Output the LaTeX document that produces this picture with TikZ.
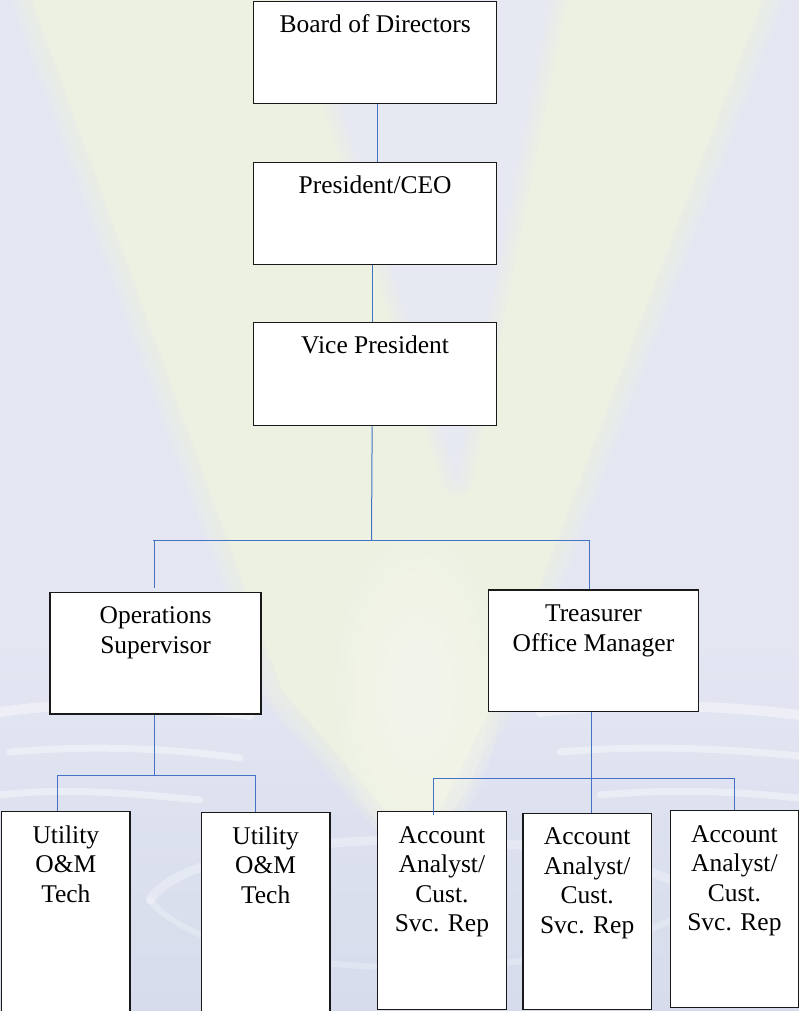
\documentclass[tikz,border=0pt]{standalone}
\usepackage{fontspec}
\setmainfont{Liberation Serif}
\definecolor{bgl}{RGB}{228,230,242}
\definecolor{bgb}{RGB}{214,220,236}
\definecolor{vgr}{RGB}{237,241,226}
\definecolor{vin}{RGB}{230,232,242}
\definecolor{vglow}{RGB}{248,249,240}
\definecolor{lineblue}{RGB}{68,114,196}
\newcommand\myfirstline{\rule{0pt}{20pt}}
\tikzset{
  box/.style={draw=black!90, line width=1.3pt, fill=white, inner sep=0pt, anchor=north west},
  lbl/.style={font=\fontsize{25.5}{29.5}\selectfont, align=center, anchor=north, inner sep=0pt},
  conn/.style={draw=lineblue, line width=1pt},
  streak/.style={draw=white, opacity=0.4, line cap=round},
  soft/.style={opacity=0.28, line join=round, line cap=round}
}
\begin{document}
\begin{tikzpicture}[x=1pt,y=-1pt]
\useasboundingbox (0,0) rectangle (799,1011);
% ---------- background ----------
\begin{scope}
\clip (0,0) rectangle (799,1011);
\fill[bgl] (0,0) rectangle (799,1011);
\shade[top color=bgl, bottom color=bgb] (0,640) rectangle (799,1011);
% V shape with soft edges
\foreach \w in {40,28,16,6}
  \draw[vgr, soft, line width=\w pt] (25,-20) -- (770,-20) -- (500,690) -- (420,850) -- (282,690) -- cycle;
\fill[vgr] (25,-20) -- (770,-20) -- (500,690) -- (420,850) -- (282,690) -- cycle;
% inner notch of the V
\foreach \w in {30,20,10}
  \draw[vin, soft, line width=\w pt] (300,-20) -- (555,-20) -- (457,480) -- cycle;
\fill[vin] (300,-20) -- (555,-20) -- (457,480) -- cycle;
% pale glow towards the tip
\foreach \r in {1,...,9}
  \fill[vglow, opacity=0.16] (418,690) ellipse ({9*\r} and {17*\r});
% swirls
\draw[streak, line width=10pt] (0,712) .. controls (80,700) and (180,705) .. (250,715);
\draw[streak, line width=7pt] (10,752) .. controls (90,745) and (170,748) .. (240,758);
\draw[streak, line width=7pt] (0,795) .. controls (60,788) and (120,792) .. (200,800);
\draw[streak, line width=10pt] (540,712) .. controls (620,702) and (720,705) .. (799,715);
\draw[streak, line width=7pt] (560,752) .. controls (640,745) and (720,748) .. (799,756);
\draw[streak, line width=7pt] (600,795) .. controls (680,788) and (740,792) .. (799,798);
\draw[streak, line width=9pt, opacity=0.3] (150,900) .. controls (200,820) and (620,820) .. (700,900);
\draw[streak, line width=6pt, opacity=0.25] (150,900) .. controls (220,990) and (600,990) .. (700,900);
\end{scope}
% ---------- boxes ----------
\node[box, minimum width=243pt, minimum height=102pt] (b1) at (253,1) {};
\node[box, minimum width=243pt, minimum height=102pt] (b2) at (253,162) {};
\node[box, minimum width=243pt, minimum height=103pt] (b3) at (253,322) {};
\node[box, minimum width=211pt, minimum height=121.6pt] (b4) at (49.4,591.7) {};
\node[box, minimum width=210.4pt, minimum height=121.7pt] (b5) at (487.6,589.3) {};
\node[box, minimum width=128.4pt, minimum height=215pt] (b6) at (1,811) {};
\node[box, minimum width=128.4pt, minimum height=215pt] (b7) at (200.8,812) {};
\node[box, minimum width=128.5pt, minimum height=197.7pt] (b8) at (377,811) {};
\node[box, minimum width=128.4pt, minimum height=196.3pt] (b9) at (522.3,812.7) {};
\node[box, minimum width=128.5pt, minimum height=196.7pt] (b10) at (669.5,810) {};
% ---------- labels ----------
\node[lbl] (t1) at ([yshift=-11pt]b1.north) {\myfirstline Board of Directors};
\node[lbl] (t2) at ([yshift=-11pt]b2.north) {\myfirstline President/CEO};
\node[lbl] (t3) at ([yshift=-11pt]b3.north) {\myfirstline Vice President};
\node[lbl] (t4) at ([yshift=-12pt]b4.north) {\myfirstline Operations\\Supervisor};
\node[lbl] (t5) at ([yshift=-12pt]b5.north) {\myfirstline Treasurer\\Office Manager};
\node[lbl] (t6) at ([yshift=-12pt]b6.north) {\myfirstline Utility\\O\&M\\Tech};
\node[lbl] (t7) at ([yshift=-12pt]b7.north) {\myfirstline Utility\\O\&M\\Tech};
\node[lbl] (t8) at ([yshift=-12pt]b8.north) {\myfirstline Account\\Analyst/\\Cust.\\Svc. Rep};
\node[lbl] (t9) at ([yshift=-12pt]b9.north) {\myfirstline Account\\Analyst/\\Cust.\\Svc. Rep};
\node[lbl] (t10) at ([yshift=-12pt]b10.north) {\myfirstline Account\\Analyst/\\Cust.\\Svc. Rep};
% ---------- connectors ----------
\coordinate (hub) at (371.5,540);
\coordinate (L1) at (154,540);
\coordinate (R1) at (589,540);
\draw[conn] ([xshift=2.5pt]b1.south) -- ([xshift=2.5pt]b2.north);
\draw[conn] ([xshift=-3pt]b2.south) -- ([xshift=-3pt]b3.north);
\draw[conn] ([xshift=-3pt]b3.south) -- (hub);
\draw[conn] ([xshift=-1pt]L1) -- (R1);
\draw[conn] (L1) -- ([yshift=4pt]b4.north -| L1);
\draw[conn] (R1) -- (b5.north -| R1);
\coordinate (opsbus) at (154.4,775);
\coordinate (u1) at (57.6,775);
\coordinate (u2) at (255.3,775);
\draw[conn] (b4.south -| opsbus) -- (opsbus);
\draw[conn] (u1) -- (u2);
\draw[conn] (u1) -- (b6.north -| u1);
\draw[conn] (u2) -- (b7.north -| u2);
\coordinate (tbus) at (591,778);
\coordinate (a1) at (433.5,778);
\coordinate (a3) at (734.8,778);
\draw[conn] (b5.south -| tbus) -- (tbus);
\draw[conn] (a1) -- (a3);
\draw[conn] (a1) -- ([yshift=-4pt]b8.north -| a1);
\draw[conn] (tbus) -- (b9.north -| tbus);
\draw[conn] (a3) -- (b10.north -| a3);
\end{tikzpicture}
\end{document}
